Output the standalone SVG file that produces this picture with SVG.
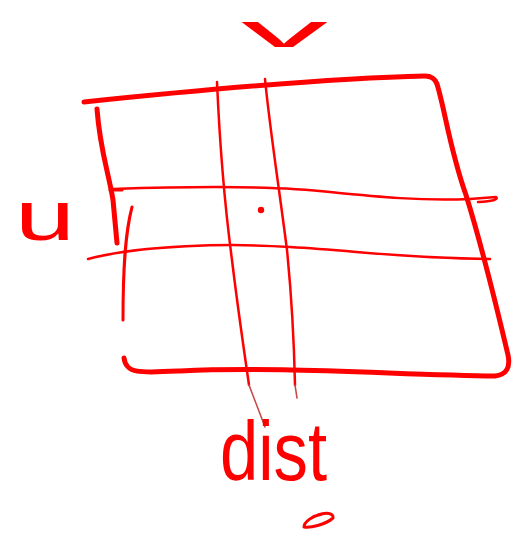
<svg xmlns="http://www.w3.org/2000/svg" width="512" height="537" viewBox="0 0 512 537">
<style>
.s{fill:none;stroke:#ff0000;stroke-linecap:round;stroke-linejoin:round}
.thick{stroke-width:5}
.mid{stroke-width:3}
.thin{stroke-width:2.5}
.faint{stroke:#c84848;stroke-width:1.6}
.t{fill:#ff0000;font-family:"Liberation Sans",Arial,sans-serif}
</style>
<rect width="512" height="537" fill="#ffffff"/>
<g id="frame">
<path class="s thick" d="M84,102 C200,90 330,78 425,76 Q434,76 437,84 C445,110 450,150 466,195 C480,240 495,300 508,355 Q512,374 495,376 C400,375 280,366 180,371 C140,373 126,374 124,358"/>
<path class="s thick" d="M97,109 C100,150 108,170 113,200 L117,243"/>
<path class="s mid" d="M110,190 L122,190"/>
<path class="s mid" d="M132,207 C126,230 123,260 123,320"/>
</g>
<g id="grid">
<path class="s thin" d="M113,189 C200,186 280,186 330,192 C380,197 420,201 470,199 L496,197 Q500,201 478,202"/>
<path class="s thin" d="M88,259 C140,245 230,243 290,247 C360,251 400,258 490,259"/>
<path class="s thin" d="M217,82 C220,150 224,200 232,260 C238,310 244,350 249,385"/>
<path class="s faint" d="M249,385 L265,427"/>
<path class="s thin" d="M265,79 C270,130 278,180 287,250 C292,300 294,340 295,385"/>
<path class="s faint" d="M295,385 L297,398"/>
<circle cx="261" cy="210" r="3.2" fill="#ff0000"/>
<path class="s mid" d="M322,514 C312,516 304,522 304,527 C310,528 325,525 333,518 C334,513 326,512 318,515"/>
</g>
<g id="labels">
<text class="t" x="241" y="47" font-size="46" textLength="87" lengthAdjust="spacingAndGlyphs">v</text>
<text class="t" x="15" y="240" font-size="70" textLength="60" lengthAdjust="spacingAndGlyphs">u</text>
<text class="t" x="220" y="480" font-size="84" textLength="107" lengthAdjust="spacingAndGlyphs">dist</text>
</g>
</svg>
